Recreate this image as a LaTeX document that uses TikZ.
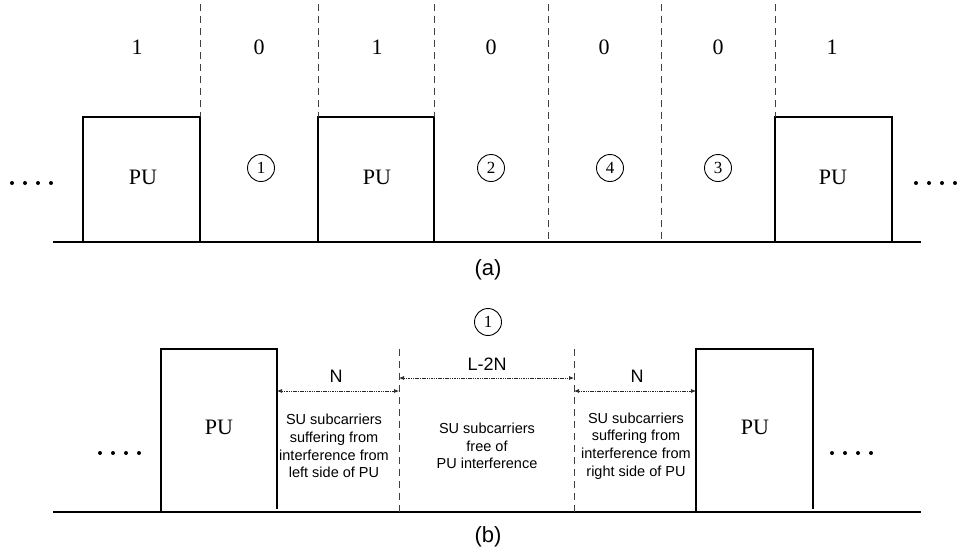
\documentclass[tikz,border=0pt]{standalone}
\usepackage{fontspec}
\setmainfont{Liberation Serif}
\setsansfont{Liberation Sans}
\usetikzlibrary{arrows.meta}
\tikzset{
  pubox/.style={line width=1.8pt, line join=miter},
  ground/.style={line width=1.8pt},
  divider/.style={line width=1pt, dash pattern=on 7pt off 5pt, black!75},
  meas/.style={line width=0.7pt, dash pattern=on 1.5pt off 0.8pt, black!85,
    {Latex[length=5pt,width=4pt]}-{Latex[length=5pt,width=4pt]}},
  circnum/.style={circle, draw, line width=0.9pt, minimum size=27pt, inner sep=0pt,
    font=\fontsize{17}{17}\selectfont},
  digit/.style={font=\fontsize{22}{22}\selectfont},
  pulabel/.style={font=\fontsize{22}{22}\selectfont},
  desc/.style={font=\sffamily\fontsize{14.5}{17.7}\selectfont, align=center},
  dimlabel/.style={font=\sffamily\fontsize{18}{18}\selectfont},
  caption/.style={font=\sffamily\fontsize{22}{22}\selectfont},
  dotsym/.style={circle, fill, inner sep=0pt, minimum size=4pt},
}
\begin{document}
\begin{tikzpicture}[x=1pt,y=-1pt]
\useasboundingbox (0,0) rectangle (957,555);
% ---------------- (a) ----------------
\coordinate (gaL) at (53,242);
\coordinate (gaR) at (921,242);
\draw[ground] (gaL) -- (gaR);
% PU boxes
\coordinate (a1bl) at (83,242);  \coordinate (a1tl) at (83,117);
\coordinate (a1tr) at (200,117); \coordinate (a1br) at (200,242);
\coordinate (a2bl) at (318,242); \coordinate (a2tl) at (318,117);
\coordinate (a2tr) at (434,117); \coordinate (a2br) at (434,242);
\coordinate (a3bl) at (775,242); \coordinate (a3tl) at (775,117);
\coordinate (a3tr) at (892,117); \coordinate (a3br) at (892,242);
\draw[pubox] (a1bl) -- (a1tl) -- (a1tr) -- (a1br);
\draw[pubox] (a2bl) -- (a2tl) -- (a2tr) -- (a2br);
\draw[pubox] (a3bl) -- (a3tl) -- (a3tr) -- (a3br);
% dividers
\coordinate (d1t) at (200,4); \coordinate (d2t) at (318,4); \coordinate (d3t) at (434,4);
\coordinate (d4t) at (548,4); \coordinate (d4b) at (548,242);
\coordinate (d5t) at (661,4); \coordinate (d5b) at (661,242);
\coordinate (d6t) at (775,4);
\draw[divider] (d1t) -- (a1tr);
\draw[divider] (d2t) -- (a2tl);
\draw[divider] (d3t) -- (a2tr);
\draw[divider] (d4t) -- (d4b);
\draw[divider] (d5t) -- (d5b);
\draw[divider] (d6t) -- (a3tl);
% bits
\node[digit] (b1) at (137,47) {1};
\node[digit] (b2) at (259,47) {0};
\node[digit] (b3) at (377,47) {1};
\node[digit] (b4) at (491,47) {0};
\node[digit] (b5) at (604,47) {0};
\node[digit] (b6) at (718,47) {0};
\node[digit] (b7) at (832,47) {1};
% labels in slots
\node[pulabel] (pa1) at (143,177) {PU};
\node[pulabel] (pa2) at (377,177) {PU};
\node[pulabel] (pa3) at (833,177) {PU};
\node[circnum] (c1) at (261,168) {1};
\node[circnum] (c2) at (491,168) {2};
\node[circnum] (c4) at (610,168) {4};
\node[circnum] (c3) at (718,168) {3};
% dots
\foreach \i/\x in {1/12,2/25,3/38,4/51} \node[dotsym] (ldota\i) at (\x,183) {};
\foreach \i/\x in {1/916,2/929,3/942,4/955} \node[dotsym] (rdota\i) at (\x,183) {};
\node[caption] (capa) at (488,270) {(a)};
% ---------------- (b) ----------------
\node[circnum] (cb) at (488,322) {1};
\coordinate (gbL) at (53,512);
\coordinate (gbR) at (921,512);
\draw[ground] (gbL) -- (gbR);
\coordinate (b1bl) at (161,512); \coordinate (b1tl) at (161,349);
\coordinate (b1tr) at (277,349); \coordinate (b1br) at (277,509);
\coordinate (b2bl) at (696,512); \coordinate (b2tl) at (696,349);
\coordinate (b2tr) at (813,349); \coordinate (b2br) at (813,509);
\draw[pubox] (b1bl) -- (b1tl) -- (b1tr) -- (b1br);
\draw[pubox] (b2bl) -- (b2tl) -- (b2tr) -- (b2br);
\coordinate (e1t) at (399,349); \coordinate (e1b) at (399,512);
\coordinate (e2t) at (574,349); \coordinate (e2b) at (574,512);
\draw[divider] (e1t) -- (e1b);
\draw[divider] (e2t) -- (e2b);
% measures
\coordinate (m1a) at (277,391); \coordinate (m1b) at (399,391);
\coordinate (m2a) at (399,378); \coordinate (m2b) at (574,378);
\coordinate (m3a) at (574,391); \coordinate (m3b) at (696,391);
\draw[meas] (m1a) -- (m1b);
\draw[meas] (m2a) -- (m2b);
\draw[meas] (m3a) -- (m3b);
\node[dimlabel] (n1) at (336,376) {N};
\node[dimlabel] (n2) at (487,364) {L-2N};
\node[dimlabel] (n3) at (637,376) {N};
\node[desc] (t1) at (334,446) {SU subcarriers\\suffering from\\interference from\\left side of PU};
\node[desc] (t2) at (487,446) {SU subcarriers\\free of\\PU interference};
\node[desc] (t3) at (636,446) {SU subcarriers\\suffering from\\interference from\\right side of PU};
\node[pulabel] (pb1) at (219,427) {PU};
\node[pulabel] (pb2) at (755,427) {PU};
\foreach \i/\x in {1/100,2/113,3/126,4/139} \node[dotsym] (ldotb\i) at (\x,453) {};
\foreach \i/\x in {1/832,2/845,3/858,4/871} \node[dotsym] (rdotb\i) at (\x,453) {};
\node[caption] (capb) at (488,537) {(b)};
\end{tikzpicture}
\end{document}
